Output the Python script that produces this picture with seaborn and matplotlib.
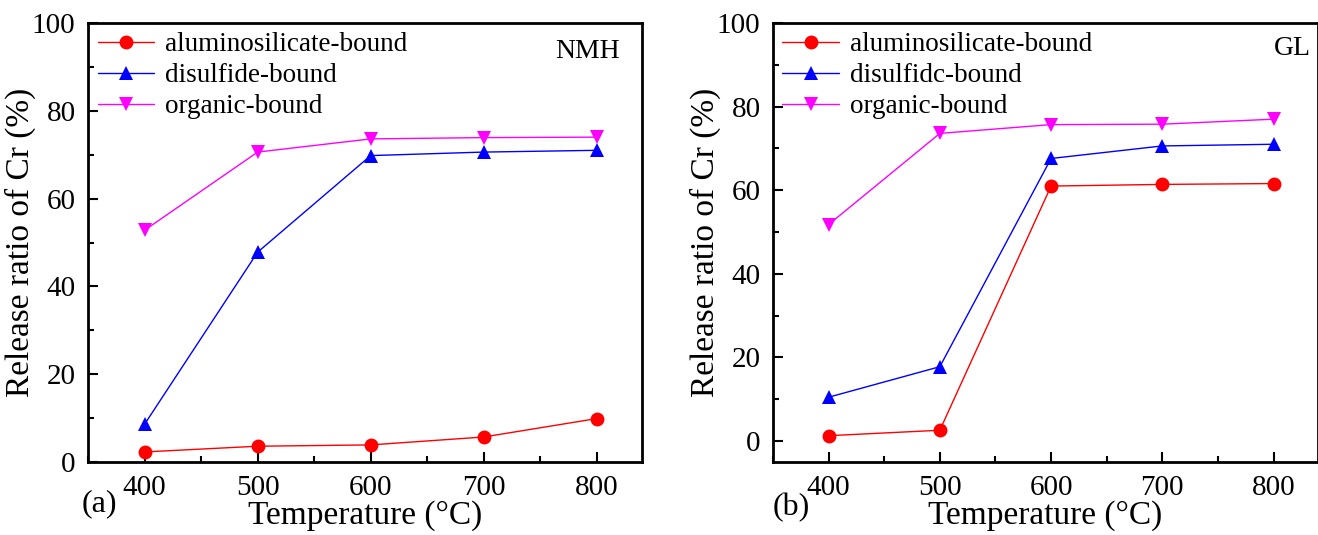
import numpy as np
import pandas as pd
import matplotlib
matplotlib.use("Agg")
import matplotlib.pyplot as plt
from matplotlib.ticker import MultipleLocator
import seaborn as sns

# ---------------------------------------------------------
# DATA
# ---------------------------------------------------------
temps = [400, 500, 600, 700, 800]

nmh_alumino = [2.3, 3.6, 3.9, 5.7, 9.9]
nmh_disulfide = [8.6, 47.8, 69.8, 70.6, 71.0]
nmh_organic = [52.8, 70.6, 73.6, 73.9, 74.0]

gl_alumino = [1.3, 2.6, 61.0, 61.4, 61.6]
gl_disulfide = [10.5, 17.8, 67.6, 70.6, 71.0]
gl_organic = [51.8, 73.6, 75.7, 75.8, 77.0]

names_a = ["aluminosilicate-bound", "disulfide-bound", "organic-bound"]
names_b = ["aluminosilicate-bound", "disulfidc-bound", "organic-bound"]  # typo kept from original
colors = ["#ff0000", "#0000ff", "#ff00ff"]
marks = ["o", "^", "v"]


def long_df(names, series):
    rows = []
    for n, vals in zip(names, series):
        for t, v in zip(temps, vals):
            rows.append({"Temperature": t, "ratio": v, "fraction": n})
    return pd.DataFrame(rows)


df_a = long_df(names_a, [nmh_alumino, nmh_disulfide, nmh_organic])
df_b = long_df(names_b, [gl_alumino, gl_disulfide, gl_organic])

# ---------------------------------------------------------
# STYLE
# ---------------------------------------------------------
sns.set_style("ticks", rc={"axes.edgecolor": "black", "text.color": "black",
                           "axes.labelcolor": "black", "xtick.color": "black",
                           "ytick.color": "black"})
plt.rcParams['font.family'] = ['Liberation Serif', 'DejaVu Serif']

fig = plt.figure(figsize=(13.18, 5.35), dpi=100)
ax_a = fig.add_axes([0.0668, 0.1364, 0.4203, 0.8206])
ax_b = fig.add_axes([0.5865, 0.1364, 0.4135, 0.8206])


def draw(ax, df, names, ylim, tag, tag_xy, panel, panel_xy):
    sns.lineplot(data=df, x="Temperature", y="ratio", hue="fraction", style="fraction",
                 hue_order=names, style_order=names,
                 palette=dict(zip(names, colors)), markers=dict(zip(names, marks)),
                 dashes=False, lw=1.0, markersize=10, markeredgewidth=0,
                 ax=ax, legend=True)
    ax.set_xlim(350, 840)
    ax.set_ylim(*ylim)
    ax.xaxis.set_major_locator(MultipleLocator(100))
    ax.xaxis.set_minor_locator(MultipleLocator(50))
    ax.yaxis.set_major_locator(MultipleLocator(20))
    ax.yaxis.set_minor_locator(MultipleLocator(10))
    ax.tick_params(which='both', direction='in', top=False, right=False,
                   labelsize=21, width=1.5)
    ax.tick_params(which='major', length=7)
    ax.tick_params(axis='x', which='major', pad=9)
    ax.tick_params(axis='y', which='major', pad=9)
    ax.tick_params(which='minor', length=4)
    for s in ax.spines.values():
        s.set_linewidth(2)
    ax.set_xlabel("Temperature (\u00b0C)", fontsize=24, labelpad=0)
    ax.set_ylabel("Release ratio of Cr (%)", fontsize=24, labelpad=-3)
    ax.legend(loc='upper left', frameon=False, fontsize=19.5, handlelength=2.1,
              handletextpad=0.4, borderaxespad=0.15, labelspacing=0.22,
              borderpad=0.2)
    ax.text(*tag_xy, tag, transform=ax.transAxes, ha='right', va='center', fontsize=20)
    ax.text(*panel_xy, panel, transform=ax.transAxes, ha='left', va='center', fontsize=23)


draw(ax_a, df_a, names_a, (0, 100), "NMH", (0.96, 0.934), "(a)", (-0.012, -0.094))
draw(ax_b, df_b, names_b, (-5, 100), "GL", (0.987, 0.943), "(b)", (0.0, -0.104))

fig.savefig("out.png", dpi=100)
